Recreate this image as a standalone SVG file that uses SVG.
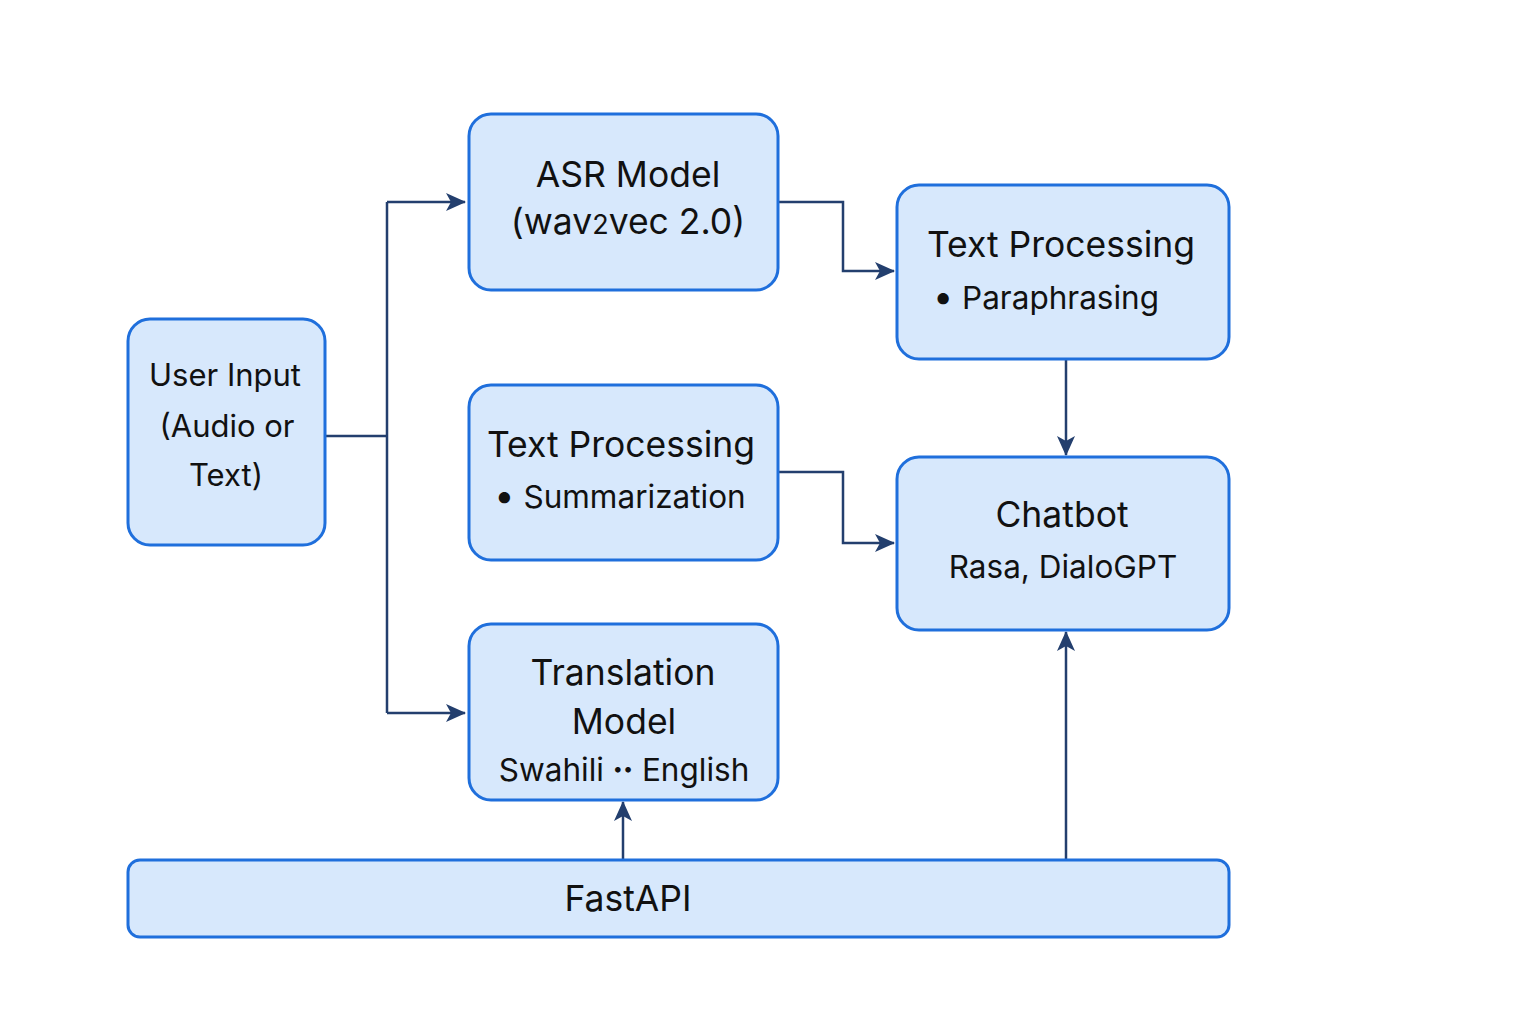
<svg xmlns="http://www.w3.org/2000/svg" width="1536" height="1024" viewBox="0 0 1536 1024">
<defs>
<marker id="arr" viewBox="0 0 20 20" refX="19" refY="10" markerWidth="20" markerHeight="20" markerUnits="userSpaceOnUse" orient="auto">
<path d="M0,1 L20,10 L0,19 L5,10 Z" fill="#233f6e"/>
</marker>
<style>
.box{fill:#d7e8fc;stroke:#1f6fdc;stroke-width:3}
.t{font-family:Inter,"Liberation Sans",sans-serif;fill:#111;text-anchor:middle}
.l{font-size:35.5px}
.s{font-size:31.5px}
.c{fill:none;stroke:#233f6e;stroke-width:2.5}
</style>
</defs>
<rect width="1536" height="1024" fill="#fff"/>
<g id="connectors">
<path class="c" d="M326,436 H387"/>
<path class="c" d="M387,202 V713"/>
<path class="c" d="M387,202 H465" marker-end="url(#arr)"/>
<path class="c" d="M387,713 H465" marker-end="url(#arr)"/>
<path class="c" d="M779,202 H843 V271 H894" marker-end="url(#arr)"/>
<path class="c" d="M779,472 H843 V543 H894" marker-end="url(#arr)"/>
<path class="c" d="M1066,360 V455" marker-end="url(#arr)"/>
<path class="c" d="M623,860 V802" marker-end="url(#arr)"/>
<path class="c" d="M1066,860 V632" marker-end="url(#arr)"/>
</g>
<g id="user-input">
<rect class="box" x="128" y="319" width="197" height="226" rx="22"/>
<text class="t" font-size="31px" x="225" y="386">User Input</text>
<text class="t" font-size="31px" x="227" y="437">(Audio or</text>
<text class="t" font-size="31px" x="226" y="486">Text)</text>
</g>
<g id="asr">
<rect class="box" x="469" y="114" width="309" height="176" rx="22"/>
<text class="t l" x="628" y="187">ASR Model</text>
<text class="t l" x="628" y="234">(wav<tspan font-size="27px">2</tspan>vec 2.0)</text>
</g>
<g id="text-paraphrase">
<rect class="box" x="897" y="185" width="332" height="174" rx="22"/>
<text class="t l" x="1061" y="257">Text Processing</text>
<text class="t s" x="1046" y="309"><tspan font-size="36px">•</tspan> Paraphrasing</text>
</g>
<g id="text-summarize">
<rect class="box" x="469" y="385" width="309" height="175" rx="22"/>
<text class="t l" x="621" y="457">Text Processing</text>
<text class="t s" x="620" y="508"><tspan font-size="36px">•</tspan> Summarization</text>
</g>
<g id="chatbot">
<rect class="box" x="897" y="457" width="332" height="173" rx="22"/>
<text class="t l" x="1062" y="527">Chatbot</text>
<text class="t s" x="1063" y="578">Rasa, DialoGPT</text>
</g>
<g id="translation">
<rect class="box" x="469" y="624" width="309" height="176" rx="22"/>
<text class="t l" x="623" y="685">Translation</text>
<text class="t l" x="624" y="734">Model</text>
<text class="t s" x="624" y="781">Swahili <tspan font-size="18px" dy="-6">••</tspan><tspan dy="6"> English</tspan></text>
</g>
<g id="fastapi">
<rect class="box" x="128" y="860" width="1101" height="77" rx="12"/>
<text class="t l" x="628" y="911">FastAPI</text>
</g>
</svg>
